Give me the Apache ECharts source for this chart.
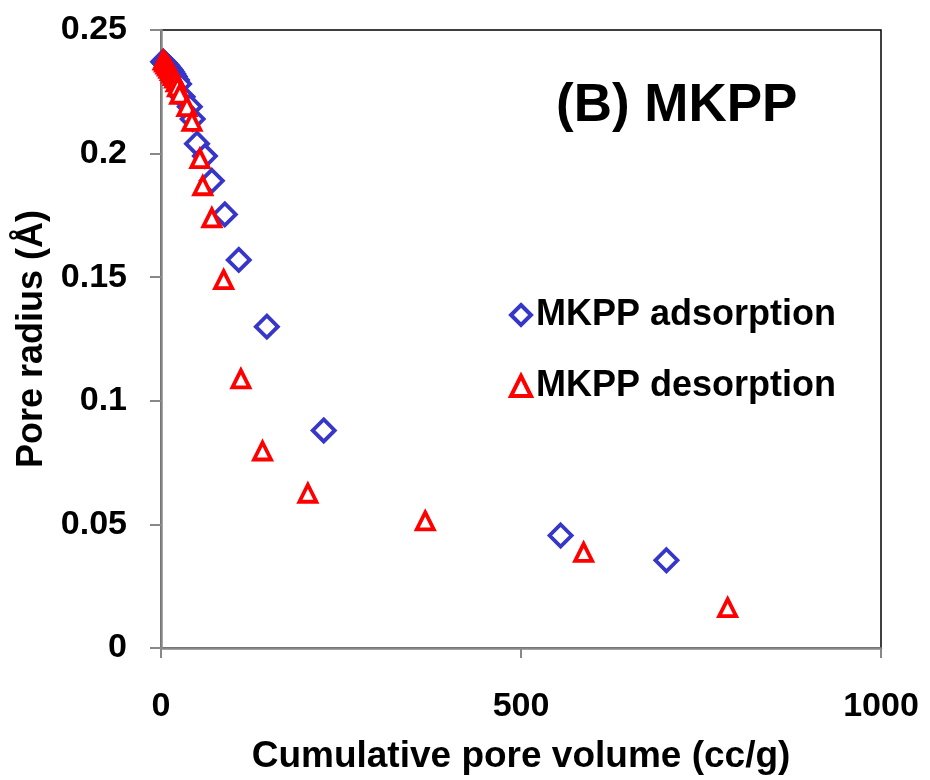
<!DOCTYPE html>
<html>
<head>
<meta charset="utf-8">
<script src="https://cdn.jsdelivr.net/npm/echarts@6/dist/echarts.min.js"></script>
<style>
  html, body { margin: 0; padding: 0; background: #fff; }
  #chart { width: 930px; height: 780px; }
</style>
</head>
<body>
<div id="chart"></div>
<script>
// Cumulative pore volume (cc/g) and pore radius for MKPP adsorption branch
const adsVolume = [3, 5, 7, 9, 11, 13, 15, 17, 19, 22, 25, 30, 40, 44, 50, 61, 70.6, 88.6, 108, 147, 226, 555, 702];
const adsRadius = [0.2372, 0.2366, 0.2360, 0.2353, 0.2346, 0.2339, 0.2331, 0.2322, 0.2312, 0.2298, 0.2282, 0.2230, 0.2190, 0.2140, 0.2040, 0.1990, 0.1890, 0.1754, 0.1570, 0.1300, 0.0880, 0.0455, 0.0355];

// MKPP desorption branch
const desVolume = [3, 5, 7, 9, 11, 13, 15, 17, 19, 21, 23, 26, 36, 43, 54, 58, 70.6, 87, 111, 141, 204, 367, 587, 787];
const desRadius = [0.2378, 0.2370, 0.2362, 0.2354, 0.2345, 0.2336, 0.2326, 0.2316, 0.2305, 0.2290, 0.2270, 0.2240, 0.2190, 0.2130, 0.1980, 0.1870, 0.1740, 0.1490, 0.1089, 0.0797, 0.0626, 0.0514, 0.0387, 0.0163];

const xTicks = [0, 500, 1000];
const yTicks = [0, 0.05, 0.1, 0.15, 0.2, 0.25];

const pairs = (xs, ys) => xs.map((x, i) => [x, ys[i]]);

const FONT = 'Liberation Sans, Arial, sans-serif';
const BLUE = '#3636c8';
const RED = '#ff0000';
const chart = echarts.init(document.getElementById('chart'), null, { renderer: 'canvas' });

chart.setOption({
  backgroundColor: '#ffffff',
  animation: false,
  title: {
    text: '(B) MKPP',
    left: 551,
    top: 75,
    textStyle: { fontFamily: FONT, fontWeight: 'bold', fontSize: 53, color: '#000' }
  },
  legend: {
    orient: 'vertical',
    left: 504,
    top: 289,
    itemWidth: 20,
    itemHeight: 20,
    itemGap: 29,
    textStyle: { fontFamily: FONT, fontWeight: 'bold', fontSize: 36, color: '#000', lineHeight: 42 },
    data: [
      { name: 'MKPP adsorption', itemStyle: { color: '#fff', borderColor: BLUE, borderWidth: 4 } },
      { name: 'MKPP desorption', itemStyle: { color: '#fff', borderColor: RED, borderWidth: 4 } }
    ]
  },
  grid: {
    left: 161, top: 30, width: 720, height: 627,
    show: true, borderColor: '#000', borderWidth: 1.5, backgroundColor: 'transparent'
  },
  xAxis: {
    type: 'value', min: 0, max: 1000, interval: 500,
    name: 'Cumulative pore volume (cc/g)',
    nameLocation: 'middle', nameGap: 90,
    nameTextStyle: { fontFamily: FONT, fontWeight: 'bold', fontSize: 37, color: '#000' },
    axisLine: { show: true, onZero: false, lineStyle: { color: '#888', width: 2.5 } },
    axisTick: { show: true, inside: false, length: 10, lineStyle: { color: '#888', width: 2 } },
    axisLabel: {
      margin: 42, fontFamily: FONT, fontWeight: 'bold', fontSize: 34, color: '#000',
      formatter: v => (xTicks.includes(v) ? String(v) : '')
    },
    splitLine: { show: false }
  },
  yAxis: {
    type: 'value', min: 0, max: 0.25, interval: 0.05,
    name: 'Pore radius (Å)',
    nameLocation: 'middle', nameGap: 106, nameRotate: 90,
    nameTextStyle: { fontFamily: FONT, fontWeight: 'bold', fontSize: 36, color: '#000' },
    axisLine: { show: true, onZero: false, lineStyle: { color: '#888', width: 2.5 } },
    axisTick: { show: true, inside: false, length: 11, lineStyle: { color: '#888', width: 2 } },
    axisLabel: {
      margin: 34, fontFamily: FONT, fontWeight: 'bold', fontSize: 34, color: '#000',
      formatter: v => {
        const t = yTicks.find(k => Math.abs(k - v) < 1e-9);
        return t === undefined ? '' : String(t);
      }
    },
    splitLine: { show: false }
  },
  series: [
    {
      name: 'MKPP adsorption',
      type: 'scatter',
      symbol: 'diamond',
      symbolSize: 22,
      data: pairs(adsVolume, adsRadius),
      itemStyle: { color: '#ffffff', borderColor: BLUE, borderWidth: 3.8, opacity: 1 },
      z: 2
    },
    {
      name: 'MKPP desorption',
      type: 'scatter',
      symbol: 'triangle',
      symbolSize: 17,
      data: pairs(desVolume, desRadius),
      itemStyle: { color: '#ffffff', borderColor: RED, borderWidth: 3.8, opacity: 1 },
      z: 3
    }
  ]
});
</script>
</body>
</html>
